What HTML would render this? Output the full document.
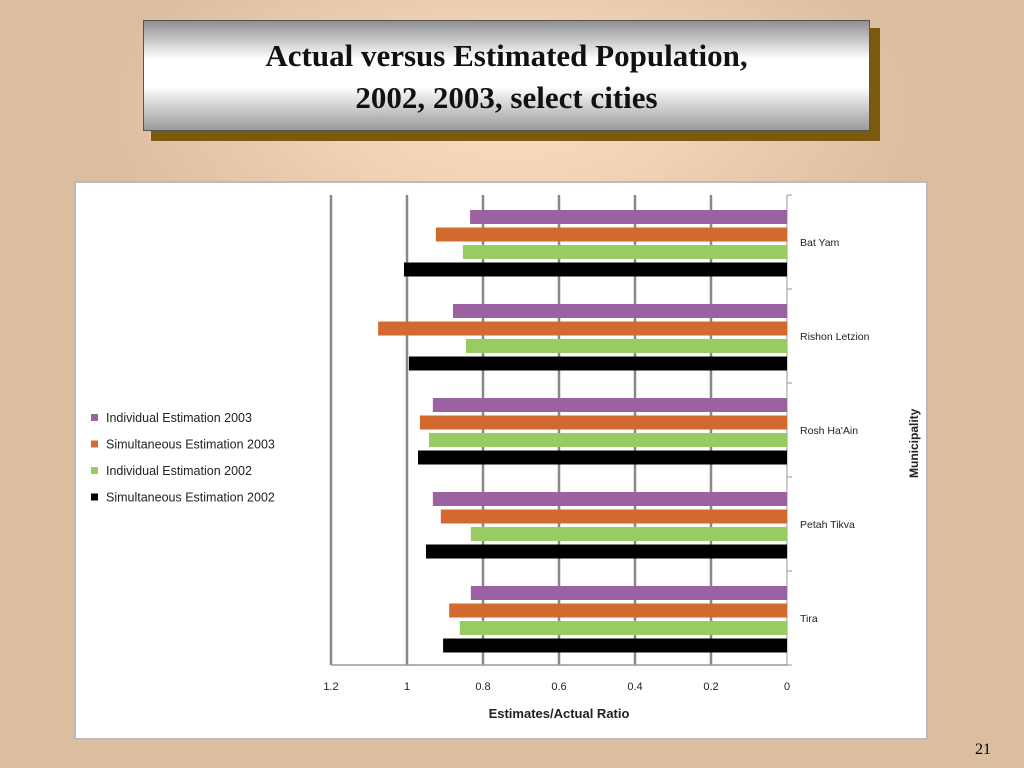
<!DOCTYPE html>
<html><head><meta charset="utf-8"><style>
body{margin:0;width:1024px;height:768px;overflow:hidden;background:radial-gradient(ellipse 420px 200px at 512px 110px,#fcdcc0 0%,#f3d2b6 40%,#dbbd9f 100%);background-color:#dbbd9f;font-family:"Liberation Sans",sans-serif;position:relative}
#shadow{position:absolute;left:151px;top:28px;width:729px;height:113px;background:#7a5a0c}
#title{position:absolute;left:143px;top:20px;width:727px;height:111px;border:1px solid #555;background:linear-gradient(#8f8f8f 0%,#fff 35%,#fff 60%,#9a9a9a 100%);text-align:center;font-family:"Liberation Serif",serif;font-weight:bold;font-size:31px;line-height:42px;padding-top:14px;box-sizing:border-box;color:#111}
#chart{position:absolute;left:74px;top:181px;width:854px;height:559px;background:#fff;border:2px solid #bbb;box-sizing:border-box}
#pg{position:absolute;left:975px;top:741px;font-family:"Liberation Serif",serif;font-size:16px}
</style></head><body>
<div id="shadow"></div>
<div id="title">Actual versus Estimated Population,<br>2002, 2003, select cities</div>
<div id="chart"></div>
<svg id="svg" width="1024" height="768" style="position:absolute;left:0;top:0"></svg>
<div id="pg">21</div>
<script>
const categories=["Bat Yam","Rishon Letzion","Rosh Ha'Ain","Petah Tikva","Tira"];
const seriesNames=["Individual Estimation 2003","Simultaneous Estimation 2003","Individual Estimation 2002","Simultaneous Estimation 2002"];
const indiv2003=[0.834,0.879,0.932,0.932,0.832];
const simul2003=[0.924,1.076,0.966,0.911,0.889];
const indiv2002=[0.853,0.845,0.942,0.832,0.861];
const simul2002=[1.008,0.995,0.971,0.950,0.905];
const ticks=[0,0.2,0.4,0.6,0.8,1,1.2];
const tickLabels=["0","0.2","0.4","0.6","0.8","1","1.2"];
const series=[indiv2003,simul2003,indiv2002,simul2002];
const colors=["#9a62a0","#d2692f","#98cc62","#000"];
const svg=document.getElementById('svg');const NS="http://www.w3.org/2000/svg";
const x0=787,x1=331,yTop=195,yBot=665;
const xs=v=>x0+(x1-x0)*v/1.2;
const band=(yBot-yTop)/categories.length;
function mk(t,a,p){const e=document.createElementNS(NS,t);for(const k in a)e.setAttribute(k,a[k]);(p||svg).appendChild(e);return e;}
ticks.forEach((t,i)=>{
 const g=mk('line',{x1:xs(t),x2:xs(t),y1:yTop,y2:yBot,stroke:t===0?'#999':'#888','stroke-width':t===0?1:2.5});
 
 
 const tl=mk('text',{x:xs(t),y:690,'text-anchor':'middle','font-size':11,fill:'#222'});tl.textContent=tickLabels[i];
 
 
});
const ax=mk('line',{x1:x1,x2:x0,y1:yBot,y2:yBot,stroke:'#999','stroke-width':1.5});


for(let i=0;i<=categories.length;i++){
 const tk=mk('line',{x1:x0,x2:x0+5,y1:yTop+i*band,y2:yTop+i*band,stroke:'#999'});
 
 
}
categories.forEach((c,ci)=>{
 series.forEach((s,si)=>{
  const y=yTop+ci*band+15+si*17.5;
  const r=mk('rect',{x:xs(s[ci]),y:y,width:x0-xs(s[ci]),height:14,fill:colors[si]});
  
  
 });
 const t=mk('text',{x:800,y:yTop+ci*band+band/2+4,'font-size':10.5,fill:'#222'});t.textContent=c;
 
 
});
seriesNames.forEach((n,i)=>{
 const y=420+i*26.5;
 const r=mk('rect',{x:91,y:y-6,width:7,height:7,fill:colors[i]});
 
 
 const t=mk('text',{x:106,y:y+2,'font-size':12.5,fill:'#222'});t.textContent=n;
 
 
});
const xt=mk('text',{x:559,y:718,'text-anchor':'middle','font-size':13,'font-weight':'bold',fill:'#222'});xt.textContent="Estimates/Actual Ratio";


const yt=mk('text',{x:0,y:0,'font-size':12,'font-weight':'bold',fill:'#222',transform:'translate(918,478) rotate(-90)'});yt.textContent="Municipality";


</script>
</body></html>
